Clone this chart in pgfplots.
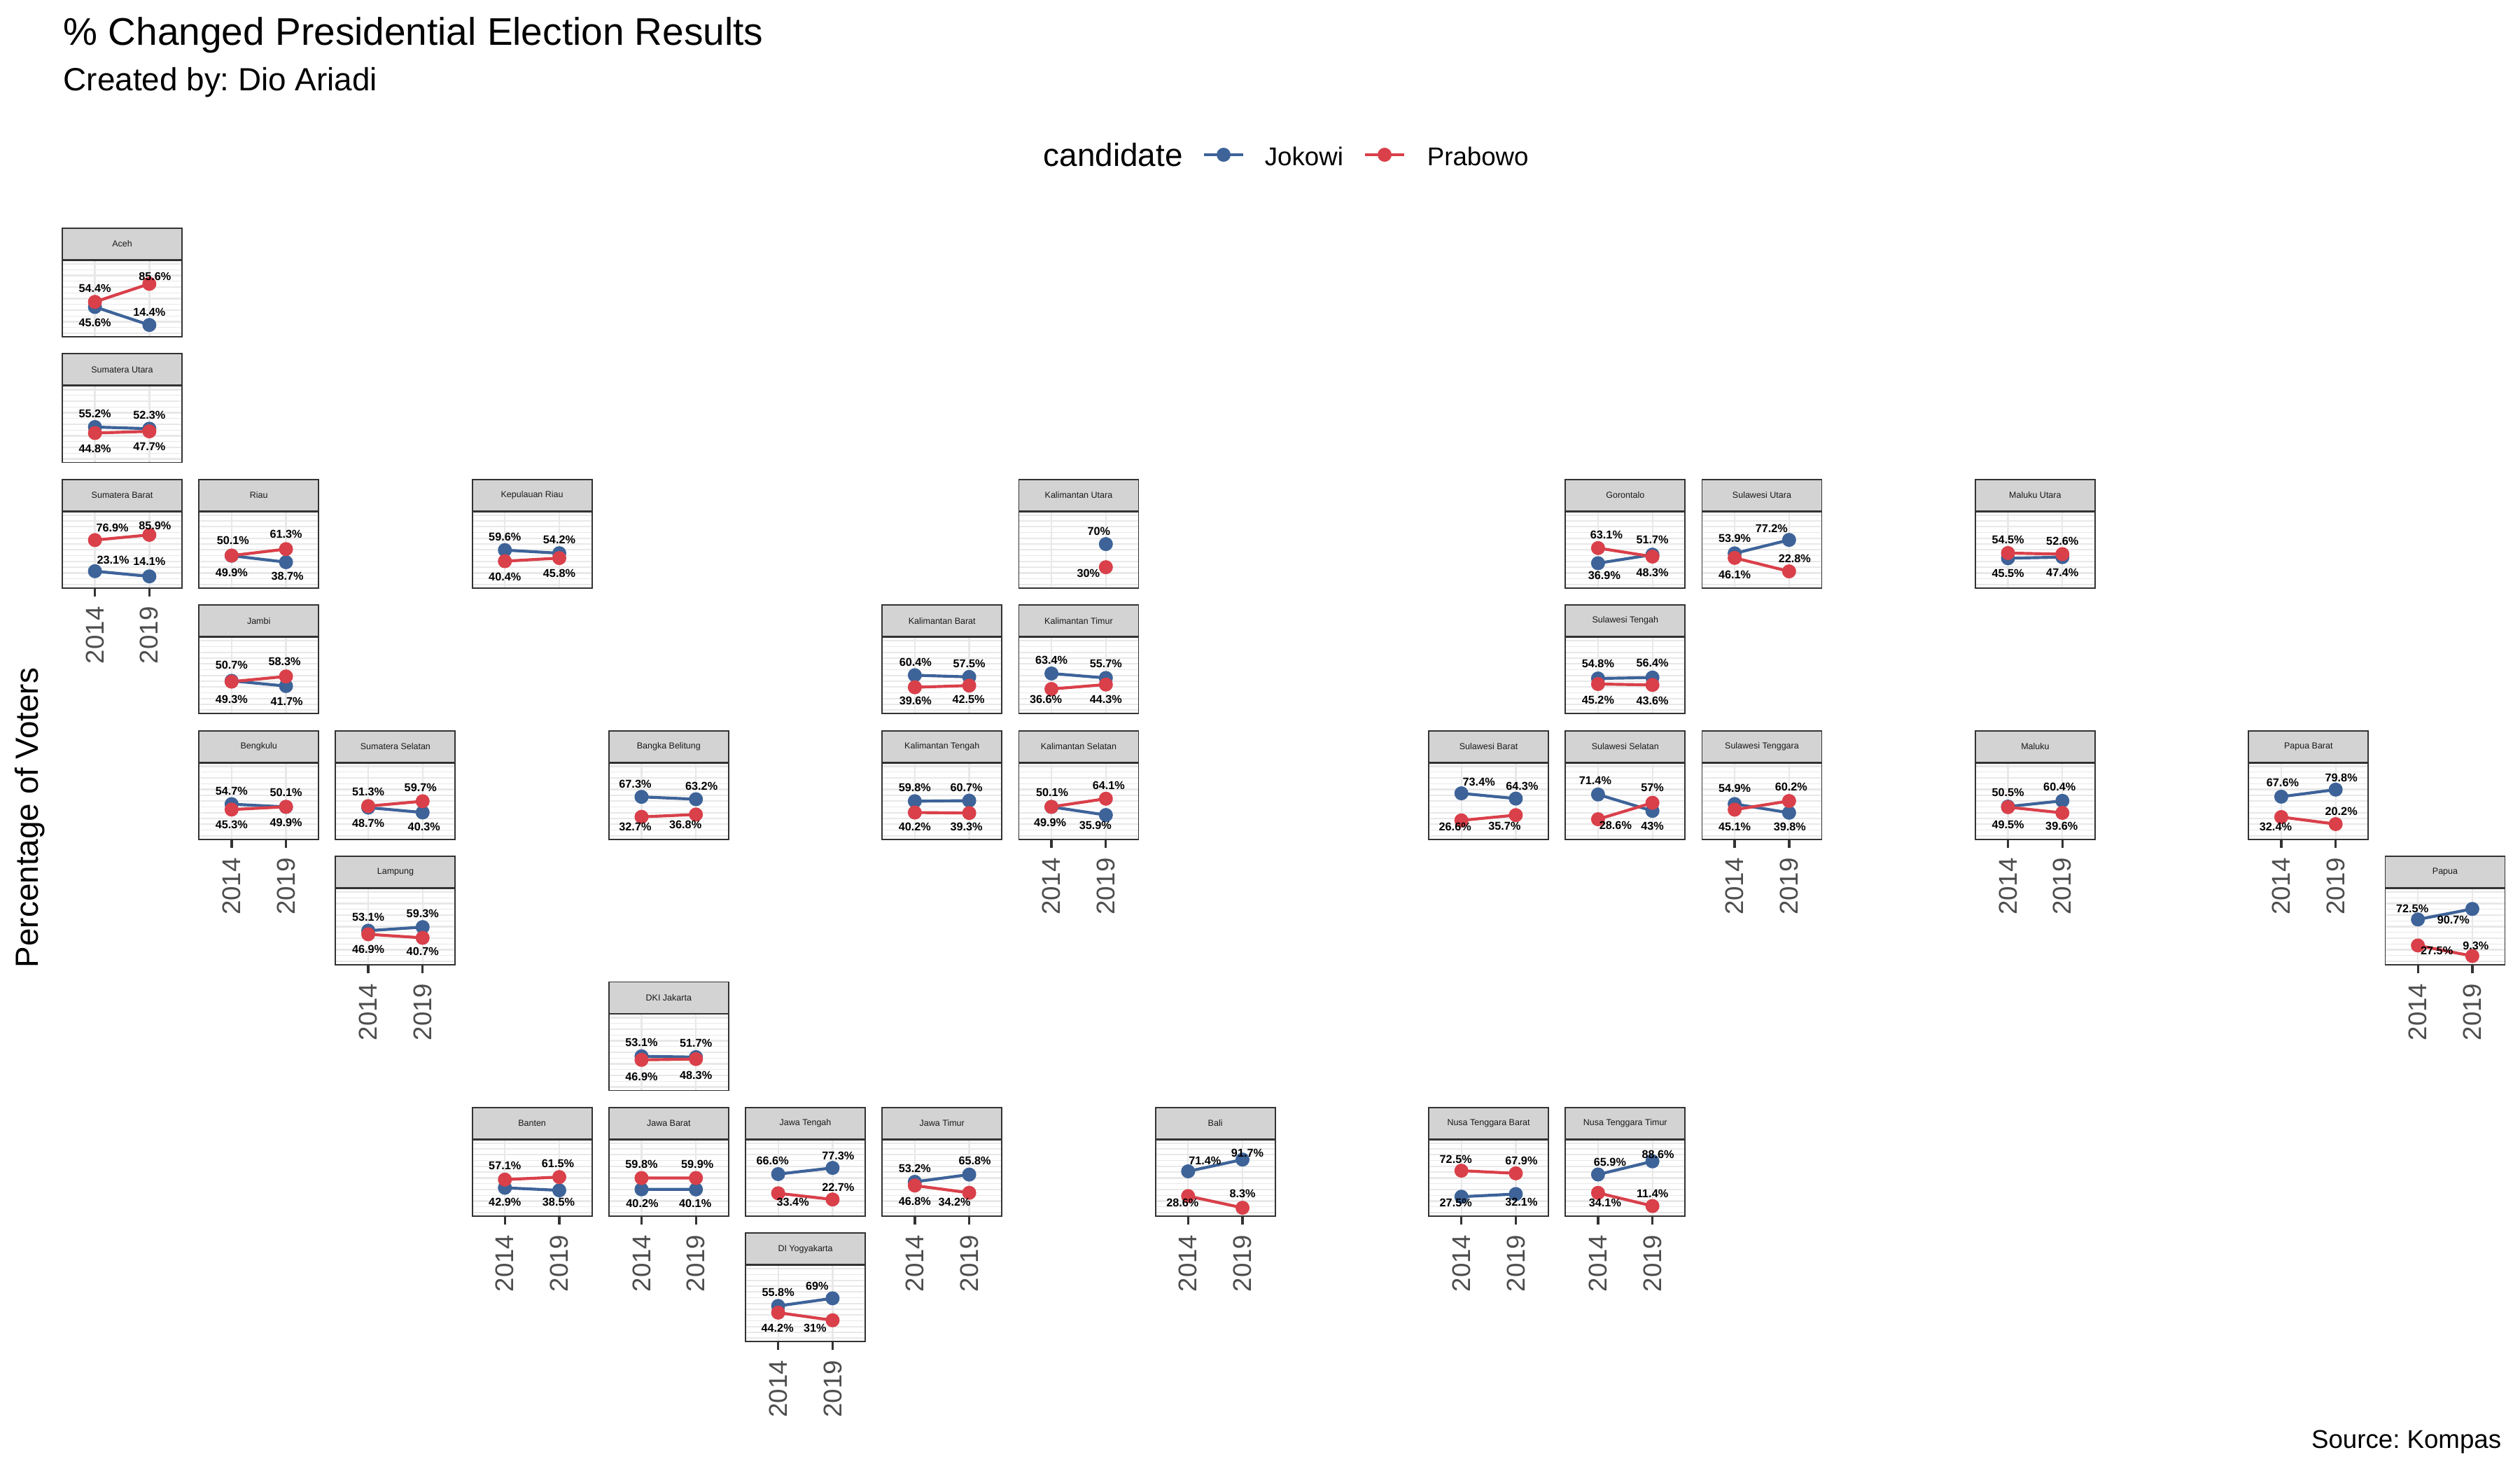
\documentclass[border=0pt]{standalone}
\usepackage{pgfplots}
\pgfplotsset{compat=1.18}
\usepackage{fontspec}
\setmainfont{Liberation Sans}
\frenchspacing
\definecolor{jk}{HTML}{3D6399}
\definecolor{pb}{HTML}{D9404A}
\definecolor{grey10}{HTML}{1A1A1A}
\definecolor{grey20}{HTML}{333333}
\definecolor{grey30}{HTML}{4D4D4D}
\definecolor{gridc}{HTML}{E8E8E8}
\definecolor{stripc}{HTML}{D3D3D3}
\newcommand\labfont{\fontsize{3.9}{4}\selectfont\bfseries}
\pgfplotsset{
 panel/.style={scale only axis, width=41.04pt, height=26.16pt, anchor=south west,
   xmin=2011, xmax=2022, ymin=-6, ymax=126,
   xtick={2014,2019}, ytick={0,20,...,120}, minor ytick={10,30,...,110}, yticklabels={},
   xmajorgrids, ymajorgrids, yminorgrids,
   major grid style={draw=gridc, line width=0.55pt},
   minor grid style={draw=gridc, line width=0.3pt},
   axis line style={draw=grey20, line width=0.45pt},
   ytick style={draw=none}, minor tick length=0pt,
   xtick pos=bottom, tick align=outside, clip=false},
 noticks/.style={xticklabels={}, xtick style={draw=none}},
 withticks/.style={xticklabels={2014,2019}, major tick length=2.88pt,
   xtick style={draw=grey20, line width=0.8pt},
   xticklabel style={rotate=90, anchor=east, font=\fontsize{8.8}{9}\selectfont, text=grey30}},
 ln/.style={line width=1pt, no marks},
 dots/.style={only marks, mark=*, mark size=2.2pt},
 labs/.style={draw=none, mark=none, forget plot,
   nodes near coords={\pgfplotspointmeta\%}, point meta=explicit symbolic,
   visualization depends on={value \thisrow{dx}\as\ldx},
   visualization depends on={value \thisrow{dy}\as\ldy},
   every node near coord/.append style={anchor=center, inner sep=0pt, font=\labfont,
     text=black, xshift={\ldx*0.24pt}, yshift={\ldy*0.24pt}}},
}
\newcommand\panel[6]{%
 \pgfmathsetmacro\pL{(89+(#1-1)*195.2)*0.24}%
 \pgfmathsetmacro\pT{-(326+(#2-1)*179.4)*0.24}%
 \pgfmathsetmacro\pB{\pT-155*0.24}%
 \pgfmathsetmacro\pS{\pT-45*0.24}%
 \pgfmathsetmacro\pR{\pL+171*0.24}%
 \pgfmathsetmacro\pC{\pL+85.5*0.24}%
 \pgfmathsetmacro\pM{\pT-22.5*0.24}%
 \begin{axis}[panel,#4,at={(\pL pt,\pB pt)}]
  \addplot[jk,ln] table[row sep=\\,meta=lab]{x y lab dx dy\\ #5};
  \addplot[pb,ln] table[row sep=\\,meta=lab]{x y lab dx dy\\ #6};
  \addplot[jk,dots] table[row sep=\\,meta=lab]{x y lab dx dy\\ #5};
  \addplot[pb,dots] table[row sep=\\,meta=lab]{x y lab dx dy\\ #6};
  \addplot[labs] table[row sep=\\,meta=lab]{x y lab dx dy\\ #5};
  \addplot[labs] table[row sep=\\,meta=lab]{x y lab dx dy\\ #6};
 \end{axis}
 \draw[fill=stripc, draw=grey20, line width=0.45pt] (\pL pt,\pT pt) rectangle (\pR pt,\pS pt);
 \node[font=\fontsize{3}{3.5}\selectfont, text=grey10, inner sep=0pt] at (\pC pt,\pM pt) {#3};
}
\begin{document}
\begin{tikzpicture}
\useasboundingbox (0,0) rectangle (864pt,-504pt);
\begin{axis}[hide axis, scale only axis, width=864pt, height=504pt, at={(0pt,-504pt)}, anchor=south west,
  xmin=0, xmax=3600, ymin=0, ymax=2100, y dir=reverse, clip=false]
 \addplot[jk, line width=1pt, no marks] coordinates {(1720,221) (1776,221)};
 \addplot[jk, only marks, mark=*, mark size=2.2pt] coordinates {(1748,221)};
 \addplot[pb, line width=1pt, no marks] coordinates {(1950,221) (2006,221)};
 \addplot[pb, only marks, mark=*, mark size=2.2pt] coordinates {(1978,221)};
 \node[anchor=base west, inner sep=0pt, font=\fontsize{11}{13}\selectfont] at (axis cs:1490,237) {candidate};
 \node[anchor=base west, inner sep=0pt, font=\fontsize{8.8}{10}\selectfont] at (axis cs:1806,236) {Jokowi};
 \node[anchor=base west, inner sep=0pt, font=\fontsize{8.8}{10}\selectfont] at (axis cs:2038,236) {Prabowo};
 \node[anchor=base west, inner sep=0pt, font=\fontsize{13.2}{15}\selectfont] at (axis cs:90,64) {\% Changed Presidential Election Results};
 \node[anchor=base west, inner sep=0pt, font=\fontsize{11}{13}\selectfont] at (axis cs:90,129) {Created by: Dio Ariadi};
 \node[anchor=base, rotate=90, inner sep=0pt, font=\fontsize{11}{13}\selectfont] at (axis cs:55,1168) {Percentage of Voters};
 \node[anchor=base east, inner sep=0pt, font=\fontsize{8.8}{10}\selectfont] at (axis cs:3574,2068) {Source: Kompas};
\end{axis}
\panel{1}{1}{Aceh}{noticks}{2014 45.6 45.6 0 -22\\ 2019 14.4 14.4 0 18\\}{2014 54.4 54.4 0 19\\ 2019 85.6 85.6 8 10\\}
\panel{1}{2}{Sumatera Utara}{noticks}{2014 55.2 55.2 0 19\\ 2019 52.3 52.3 0 19\\}{2014 44.8 44.8 0 -22\\ 2019 47.7 47.7 0 -22\\}
\panel{1}{3}{Sumatera Barat}{withticks}{2014 23.1 23.1 26 16\\ 2019 14.1 14.1 0 21\\}{2014 76.9 76.9 25 17\\ 2019 85.9 85.9 8 13\\}
\panel{2}{3}{Riau}{noticks}{2014 49.9 49.9 0 -24\\ 2019 38.7 38.7 2 -20\\}{2014 50.1 50.1 2 22\\ 2019 61.3 61.3 0 21\\}
\panel{4}{3}{Kepulauan Riau}{noticks}{2014 59.6 59.6 0 19\\ 2019 54.2 54.2 0 19\\}{2014 40.4 40.4 0 -22\\ 2019 45.8 45.8 0 -22\\}
\panel{8}{3}{Kalimantan Utara}{noticks}{2019 70 70 -10 18\\}{2019 30 30 -25 -9\\}
\panel{12}{3}{Gorontalo}{noticks}{2014 36.9 36.9 9 -18\\ 2019 51.7 51.7 0 21\\}{2014 63.1 63.1 12 19\\ 2019 48.3 48.3 0 -23\\}
\panel{13}{3}{Sulawesi Utara}{noticks}{2014 53.9 53.9 0 21\\ 2019 77.2 77.2 -25 16\\}{2014 46.1 46.1 0 -24\\ 2019 22.8 22.8 8 18\\}
\panel{15}{3}{Maluku Utara}{noticks}{2014 45.5 45.5 0 -22\\ 2019 47.4 47.4 0 -22\\}{2014 54.5 54.5 0 19\\ 2019 52.6 52.6 0 19\\}
\panel{2}{4}{Jambi}{noticks}{2014 50.7 50.7 0 23\\ 2019 41.7 41.7 1 -22\\}{2014 49.3 49.3 0 -25\\ 2019 58.3 58.3 -2 21\\}
\panel{7}{4}{Kalimantan Barat}{noticks}{2014 60.4 60.4 1 19\\ 2019 57.5 57.5 0 19\\}{2014 39.6 39.6 1 -19\\ 2019 42.5 42.5 -1 -20\\}
\panel{8}{4}{Kalimantan Timur}{noticks}{2014 63.4 63.4 0 19\\ 2019 55.7 55.7 0 20\\}{2014 36.6 36.6 -8 -15\\ 2019 44.3 44.3 0 -21\\}
\panel{12}{4}{Sulawesi Tengah}{noticks}{2014 54.8 54.8 0 21\\ 2019 56.4 56.4 0 21\\}{2014 45.2 45.2 0 -23\\ 2019 43.6 43.6 0 -23\\}
\panel{2}{5}{Bengkulu}{withticks}{2014 54.7 54.7 0 19\\ 2019 49.9 49.9 0 -22\\}{2014 45.3 45.3 0 -22\\ 2019 50.1 50.1 0 20\\}
\panel{3}{5}{Sumatera Selatan}{noticks}{2014 48.7 48.7 0 -22\\ 2019 40.3 40.3 2 -20\\}{2014 51.3 51.3 0 20\\ 2019 59.7 59.7 -3 19\\}
\panel{5}{5}{Bangka Belitung}{noticks}{2014 67.3 67.3 -9 18\\ 2019 63.2 63.2 8 19\\}{2014 32.7 32.7 -9 -14\\ 2019 36.8 36.8 -15 -15\\}
\panel{7}{5}{Kalimantan Tengah}{noticks}{2014 59.8 59.8 0 19\\ 2019 60.7 60.7 -4 19\\}{2014 40.2 40.2 0 -20\\ 2019 39.3 39.3 -4 -20\\}
\panel{8}{5}{Kalimantan Selatan}{withticks}{2014 49.9 49.9 -2 -22\\ 2019 35.9 35.9 -15 -15\\}{2014 50.1 50.1 1 20\\ 2019 64.1 64.1 4 19\\}
\panel{11}{5}{Sulawesi Barat}{noticks}{2014 73.4 73.4 25 16\\ 2019 64.3 64.3 9 18\\}{2014 26.6 26.6 -9 -9\\ 2019 35.7 35.7 -16 -16\\}
\panel{12}{5}{Sulawesi Selatan}{noticks}{2014 71.4 71.4 -4 20\\ 2019 43 43 0 -22\\}{2014 28.6 28.6 25 -9\\ 2019 57 57 0 22\\}
\panel{13}{5}{Sulawesi Tenggara}{withticks}{2014 54.9 54.9 0 22\\ 2019 39.8 39.8 1 -20\\}{2014 45.1 45.1 0 -24\\ 2019 60.2 60.2 3 20\\}
\panel{15}{5}{Maluku}{withticks}{2014 50.5 50.5 0 20\\ 2019 60.4 60.4 -4 20\\}{2014 49.5 49.5 0 -25\\ 2019 39.6 39.6 -1 -19\\}
\panel{17}{5}{Papua Barat}{withticks}{2014 67.6 67.6 2 20\\ 2019 79.8 79.8 8 17\\}{2014 32.4 32.4 -8 -14\\ 2019 20.2 20.2 8 18\\}
\panel{3}{6}{Lampung}{withticks}{2014 53.1 53.1 0 19\\ 2019 59.3 59.3 0 19\\}{2014 46.9 46.9 0 -22\\ 2019 40.7 40.7 0 -19\\}
\panel{18}{6}{Papua}{withticks}{2014 72.5 72.5 -8 15\\ 2019 90.7 90.7 -27 -16\\}{2014 27.5 27.5 27 -8\\ 2019 9.3 9.3 5 15\\}
\panel{5}{7}{DKI Jakarta}{noticks}{2014 53.1 53.1 0 20\\ 2019 51.7 51.7 0 20\\}{2014 46.9 46.9 0 -24\\ 2019 48.3 48.3 0 -23\\}
\panel{4}{8}{Banten}{withticks}{2014 42.9 42.9 0 -20\\ 2019 38.5 38.5 -1 -17\\}{2014 57.1 57.1 0 20\\ 2019 61.5 61.5 -2 19\\}
\panel{5}{8}{Jawa Barat}{withticks}{2014 40.2 40.2 1 -20\\ 2019 40.1 40.1 -1 -20\\}{2014 59.8 59.8 0 20\\ 2019 59.9 59.9 2 20\\}
\panel{6}{8}{Jawa Tengah}{noticks}{2014 66.6 66.6 -8 19\\ 2019 77.3 77.3 8 17\\}{2014 33.4 33.4 21 -13\\ 2019 22.7 22.7 8 17\\}
\panel{7}{8}{Jawa Timur}{withticks}{2014 53.2 53.2 0 19\\ 2019 65.8 65.8 8 20\\}{2014 46.8 46.8 0 -23\\ 2019 34.2 34.2 -21 -13\\}
\panel{9}{8}{Bali}{withticks}{2014 71.4 71.4 24 15\\ 2019 91.7 91.7 7 9\\}{2014 28.6 28.6 -8 -10\\ 2019 8.3 8.3 0 20\\}
\panel{11}{8}{Nusa Tenggara Barat}{withticks}{2014 27.5 27.5 -8 -9\\ 2019 32.1 32.1 8 -12\\}{2014 72.5 72.5 -8 16\\ 2019 67.9 67.9 8 18\\}
\panel{12}{8}{Nusa Tenggara Timur}{withticks}{2014 65.9 65.9 17 18\\ 2019 88.6 88.6 8 10\\}{2014 34.1 34.1 10 -14\\ 2019 11.4 11.4 0 18\\}
\panel{6}{9}{DI Yogyakarta}{withticks}{2014 55.8 55.8 0 19\\ 2019 69 69 -22 17\\}{2014 44.2 44.2 -1 -22\\ 2019 31 31 -25 -11\\}
\end{tikzpicture}
\end{document}
